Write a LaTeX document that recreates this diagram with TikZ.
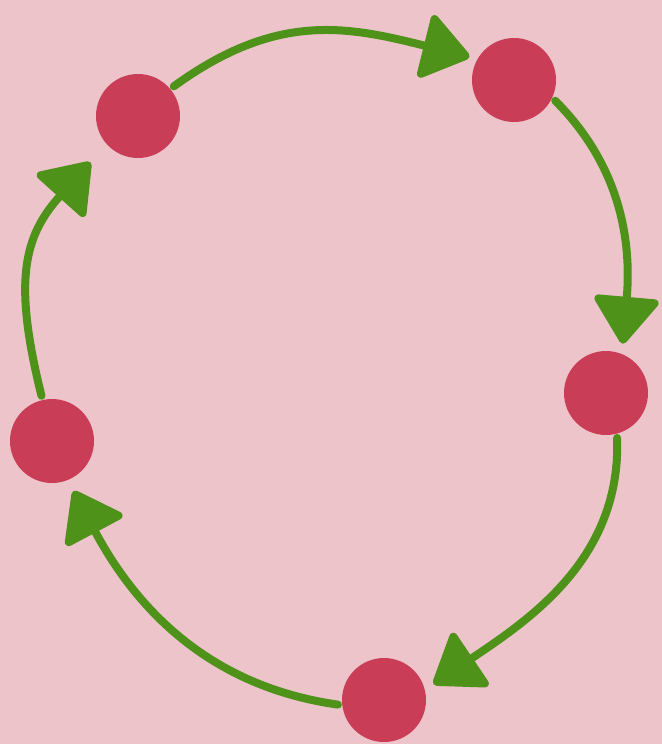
\documentclass[tikz,border=0pt]{standalone}
\usepackage{tikz}
\usetikzlibrary{arrows.meta}

\definecolor{bgpink}{HTML}{EEC4CB}
\definecolor{dotred}{HTML}{C93D57}
\definecolor{chalkgreen}{HTML}{4E921A}

\begin{document}
\begin{tikzpicture}[x=0.5pt,y=-0.5pt,
  dot/.style={circle,fill=dotred,minimum size=42pt,inner sep=0pt},
  cyc/.style={draw=chalkgreen,line width=4pt,line cap=round,
    -{Triangle[length=25pt,width=35pt,round]},fill=none}]
% Background
\fill[bgpink] (0,0) rectangle (662,744);
\useasboundingbox (0,0) rectangle (662,744);

% Dots
\node[dot] (d1) at (138,116) {};
\node[dot] (d2) at (514,80) {};
\node[dot] (d3) at (606,393) {};
\node[dot] (d4) at (384,700) {};
\node[dot] (d5) at (52,441) {};

% Arrows
\draw[cyc,shorten <=2pt,shorten >=4pt,looseness=1.1] (d1.40) to[out=36,in=166] (d2.150);
\draw[cyc,shorten <=2pt,shorten >=5pt] (d2.335) to[out=-45,in=85] (d3.68);
\draw[cyc,shorten <=2pt,shorten >=5pt] (d3.285) to[out=-88,in=34] (d4.14);
\draw[cyc,shorten <=2pt,shorten >=6pt] (d4.187) to[out=172,in=-62] (d5.292);
\draw[cyc,shorten <=2pt,shorten >=12pt,looseness=1.2] (d5.103) to[out=104,in=-132] (d1.222);
\end{tikzpicture}
\end{document}
